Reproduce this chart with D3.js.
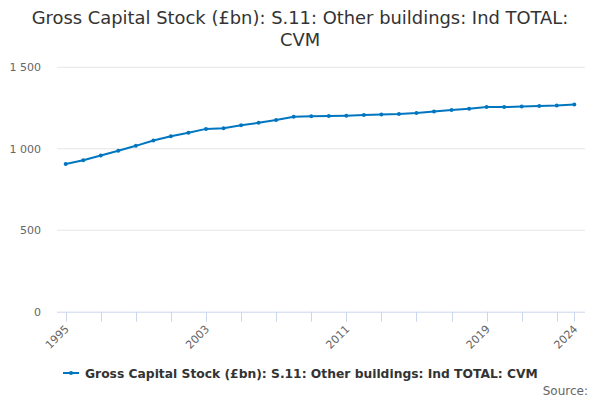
<!DOCTYPE html>
<html>
<head>
<meta charset="utf-8">
<script src="https://cdn.jsdelivr.net/npm/d3@7"></script>
<style>
  body { margin: 0; background: #fff; }
  text { font-family: "DejaVu Sans", sans-serif; }
</style>
</head>
<body>
<div id="chart"></div>
<script>
const years = d3.range(1995, 2025);
const values = [
  906, 930, 959, 988, 1018, 1051, 1077, 1098, 1122, 1126,
  1144, 1159, 1177, 1196, 1200, 1201, 1203, 1207, 1211, 1213,
  1219, 1228, 1238, 1246, 1256, 1256, 1259, 1263, 1265, 1271
];
const yTicks = [0, 500, 1000, 1500];
const xLabels = [1995, 2003, 2011, 2019, 2024];
const xTickMarks = d3.range(1995, 2024, 2).concat([2024]);
const seriesName = "Gross Capital Stock (£bn): S.11: Other buildings: Ind TOTAL: CVM";
const titleLines = ["Gross Capital Stock (£bn): S.11: Other buildings: Ind TOTAL:", "CVM"];

const width = 600;
const height = 400;
const plotLeft = 57;
const plotRight = 585;
const blue = "#0076c0";

const svg = d3
  .select("#chart")
  .append("svg")
  .attr("width", width)
  .attr("height", height);

const xScale = d3.scaleLinear().domain([1995, 2024]).range([65.7, 574.3]);
const yScale = d3.scaleLinear().domain([0, 1500]).range([311.7, 67.3]);

// title
svg
  .append("text")
  .attr("x", width / 2)
  .attr("text-anchor", "middle")
  .attr("fill", "#333")
  .attr("font-size", "17.9px")
  .selectAll("tspan")
  .data(titleLines)
  .join("tspan")
  .attr("x", width / 2)
  .attr("y", (d, i) => 24 + i * 22)
  .text((d) => d);

// grid lines
svg
  .append("g")
  .selectAll("line")
  .data(yTicks.filter((d) => d > 0))
  .join("line")
  .attr("x1", plotLeft)
  .attr("x2", plotRight)
  .attr("y1", (d) => yScale(d))
  .attr("y2", (d) => yScale(d))
  .attr("stroke", "#e6e6e6")
  .attr("stroke-width", 1);

// y labels
const fmt = (d) => d3.format(",")(d).replace(/,/g, " ");
svg
  .append("g")
  .selectAll("text")
  .data(yTicks)
  .join("text")
  .attr("x", 41)
  .attr("y", (d) => yScale(d) + 4)
  .attr("text-anchor", "end")
  .attr("fill", "#666")
  .attr("font-size", "11px")
  .text(fmt);

// x axis
const xAxis = svg.append("g");
xAxis
  .append("line")
  .attr("x1", plotLeft)
  .attr("x2", plotRight)
  .attr("y1", yScale(0) + 0.5)
  .attr("y2", yScale(0) + 0.5)
  .attr("stroke", "#ccd6eb");
xAxis
  .selectAll("line.tick")
  .data(xTickMarks)
  .join("line")
  .attr("class", "tick")
  .attr("x1", (d) => Math.round(xScale(d)) + 0.5)
  .attr("x2", (d) => Math.round(xScale(d)) + 0.5)
  .attr("y1", yScale(0))
  .attr("y2", yScale(0) + 10)
  .attr("stroke", "#ccd6eb");
xAxis
  .selectAll("text")
  .data(xLabels)
  .join("text")
  .attr("text-anchor", "end")
  .attr("fill", "#666")
  .attr("font-size", "11px")
  .attr("transform", (d) => `translate(${xScale(d) + 4}, ${yScale(0) + 18}) rotate(-45)`)
  .text((d) => d);

// line
const line = d3
  .line()
  .x((d, i) => xScale(years[i]))
  .y((d) => yScale(d));
svg
  .append("path")
  .datum(values)
  .attr("fill", "none")
  .attr("stroke", blue)
  .attr("stroke-width", 2)
  .attr("d", line);
svg
  .append("g")
  .selectAll("circle")
  .data(values)
  .join("circle")
  .attr("cx", (d, i) => xScale(years[i]))
  .attr("cy", (d) => yScale(d))
  .attr("r", 2)
  .attr("fill", blue);

// legend
const legend = svg.append("g").attr("transform", "translate(63, 373)");
legend
  .append("line")
  .attr("x1", 0)
  .attr("x2", 16)
  .attr("stroke", blue)
  .attr("stroke-width", 2);
legend.append("circle").attr("cx", 8).attr("r", 2).attr("fill", blue);
legend
  .append("text")
  .attr("x", 22)
  .attr("y", 4.5)
  .attr("fill", "#333")
  .attr("font-size", "12.3px")
  .attr("font-weight", "bold")
  .text(seriesName);

// credits
svg
  .append("text")
  .attr("x", 588)
  .attr("y", 395)
  .attr("text-anchor", "end")
  .attr("fill", "#666")
  .attr("font-size", "12px")
  .text("Source:");
</script>
</body>
</html>
